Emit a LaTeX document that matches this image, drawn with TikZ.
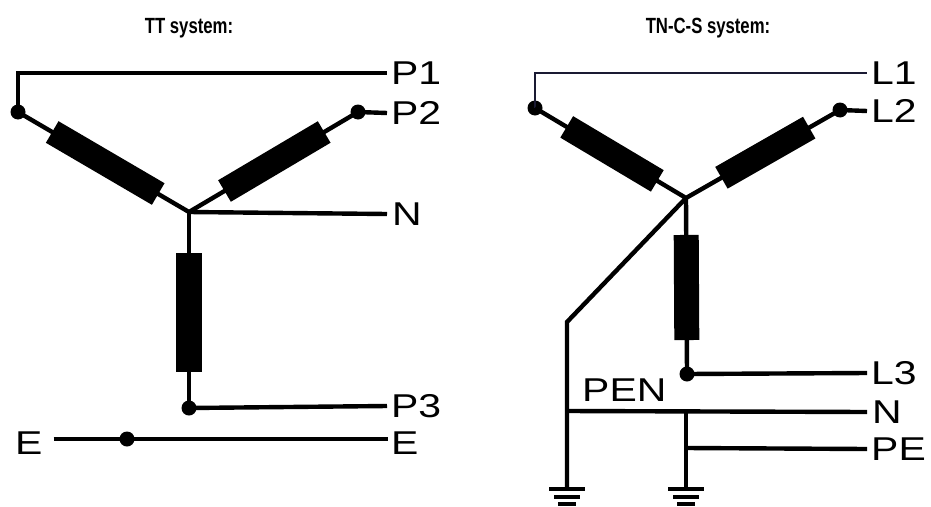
\documentclass[tikz,border=0pt]{standalone}
\usepackage{fontspec}
\setmainfont{Liberation Sans}
\newfontfamily\lblfont[FakeStretch=1.24]{Liberation Sans}
\newfontfamily\ttlfont[FakeStretch=0.76]{Liberation Sans}
\usetikzlibrary{calc}
\definecolor{navy}{HTML}{1A1A33}
\begin{document}
\begin{tikzpicture}[x=1pt,y=-1pt,
  wire/.style={line width=4.4pt},
  thinwire/.style={line width=2.8pt, draw=navy},
  body/.style={line width=25pt},
  dot/.style={circle, fill, inner sep=0pt, minimum size=15pt},
  lbl/.style={anchor=west, inner sep=0pt, font=\lblfont\fontsize{33}{33}\selectfont},
  ttl/.style={font=\ttlfont\bfseries\fontsize{22}{22}\selectfont},
  gnd/.style={line width=4pt}]
\useasboundingbox (0,0) rectangle (931,506);

% ---------- TT system ----------
\node[ttl] (t1) at (189,28) {TT system:};
\coordinate (s1) at (189,212);
\node[dot] (d1) at (18,112) {};
\node[dot] (d2) at (358,112) {};
\node[dot] (d3) at (189,408) {};
\node[dot] (de) at (127,439) {};
\node[lbl] (P1) at (391,73) {P1};
\node[lbl] (P2) at (391,113) {P2};
\node[lbl] (N1) at (392,214) {N};
\node[lbl] (P3) at (391,406) {P3};
\node[lbl] (E2) at (391,443) {E};
\node[lbl] (E1) at (15,443) {E};

\draw[wire] (d1.center) |- ([xshift=-4pt]P1.west);
\draw[wire] (d2.center) -- ([xshift=-4pt]P2.west);
\draw[wire] (d1.center) -- (s1) -- (d2.center);
\draw[wire] (s1) -- (d3.center);
\draw[wire] (s1) -- ([xshift=-5pt]N1.west);
\draw[wire] (d3.center) -- ([xshift=-4pt]P3.west);
\draw[wire] ([xshift=11pt]E1.east |- de.center) -- (de.center) -- ([xshift=-3pt]E2.west |- de.center);
\draw[body] ($(d1.center)!0.2!(s1)$) -- ($(d1.center)!0.82!(s1)$);
\draw[body] ($(s1)!0.21!(d2.center)$) -- ($(s1)!0.8!(d2.center)$);
\draw[body, line width=26pt] ($(s1)!0.21!(d3.center)$) -- ($(s1)!0.816!(d3.center)$);

% ---------- TN-C-S system ----------
\node[ttl] (t2) at (708,28) {TN-C-S system:};
\coordinate (s2) at (686,198);
\node[dot] (f1) at (535,108) {};
\node[dot] (f2) at (840,110) {};
\node[dot] (f3) at (687,374) {};
\coordinate (k) at (567,322);
\coordinate (j1) at (567,411);
\coordinate (j2) at (686,411);
\coordinate (j3) at (686,448);
\coordinate (g1) at (567,489);
\coordinate (g2) at (686,489);
\node[lbl] (L1) at (871,73) {L1};
\node[lbl] (L2) at (871,111) {L2};
\node[lbl] (L3) at (871,373) {L3};
\node[lbl] (N2) at (872,412) {N};
\node[lbl] (PE) at (871,449) {PE};
\node[lbl] (PEN) at (582,390) {PEN};

\draw[thinwire] (f1.center) |- ([xshift=-4pt]L1.west);
\draw[wire] (f2.center) -- ([xshift=-4pt]L2.west);
\draw[wire] (f1.center) -- (s2) -- (f2.center);
\draw[wire] (s2) -- (f3.center);
\draw[wire] (f3.center) -- ([xshift=-4pt]L3.west);
\draw[wire] (s2) -- (k) -- (g1);
\draw[wire] (j1) -- ([xshift=-5pt]N2.west);
\draw[wire] (j2) -- (g2);
\draw[wire] (j3) -- ([xshift=-4pt]PE.west);
\draw[body] ($(f1.center)!0.21!(s2)$) -- ($(f1.center)!0.81!(s2)$);
\draw[body] ($(s2)!0.23!(f2.center)$) -- ($(s2)!0.8!(f2.center)$);
\draw[body, line width=25pt] ($(s2)!0.21!(f3.center)$) -- ($(s2)!0.807!(f3.center)$);
\foreach \g in {g1,g2} {
  \draw[gnd] ($(\g)+(-18,0)$) -- ($(\g)+(18,0)$);
  \draw[gnd] ($(\g)+(-13,8)$) -- ($(\g)+(13,8)$);
  \draw[gnd] ($(\g)+(-9,15)$) -- ($(\g)+(9,15)$);
}
\end{tikzpicture}
\end{document}
